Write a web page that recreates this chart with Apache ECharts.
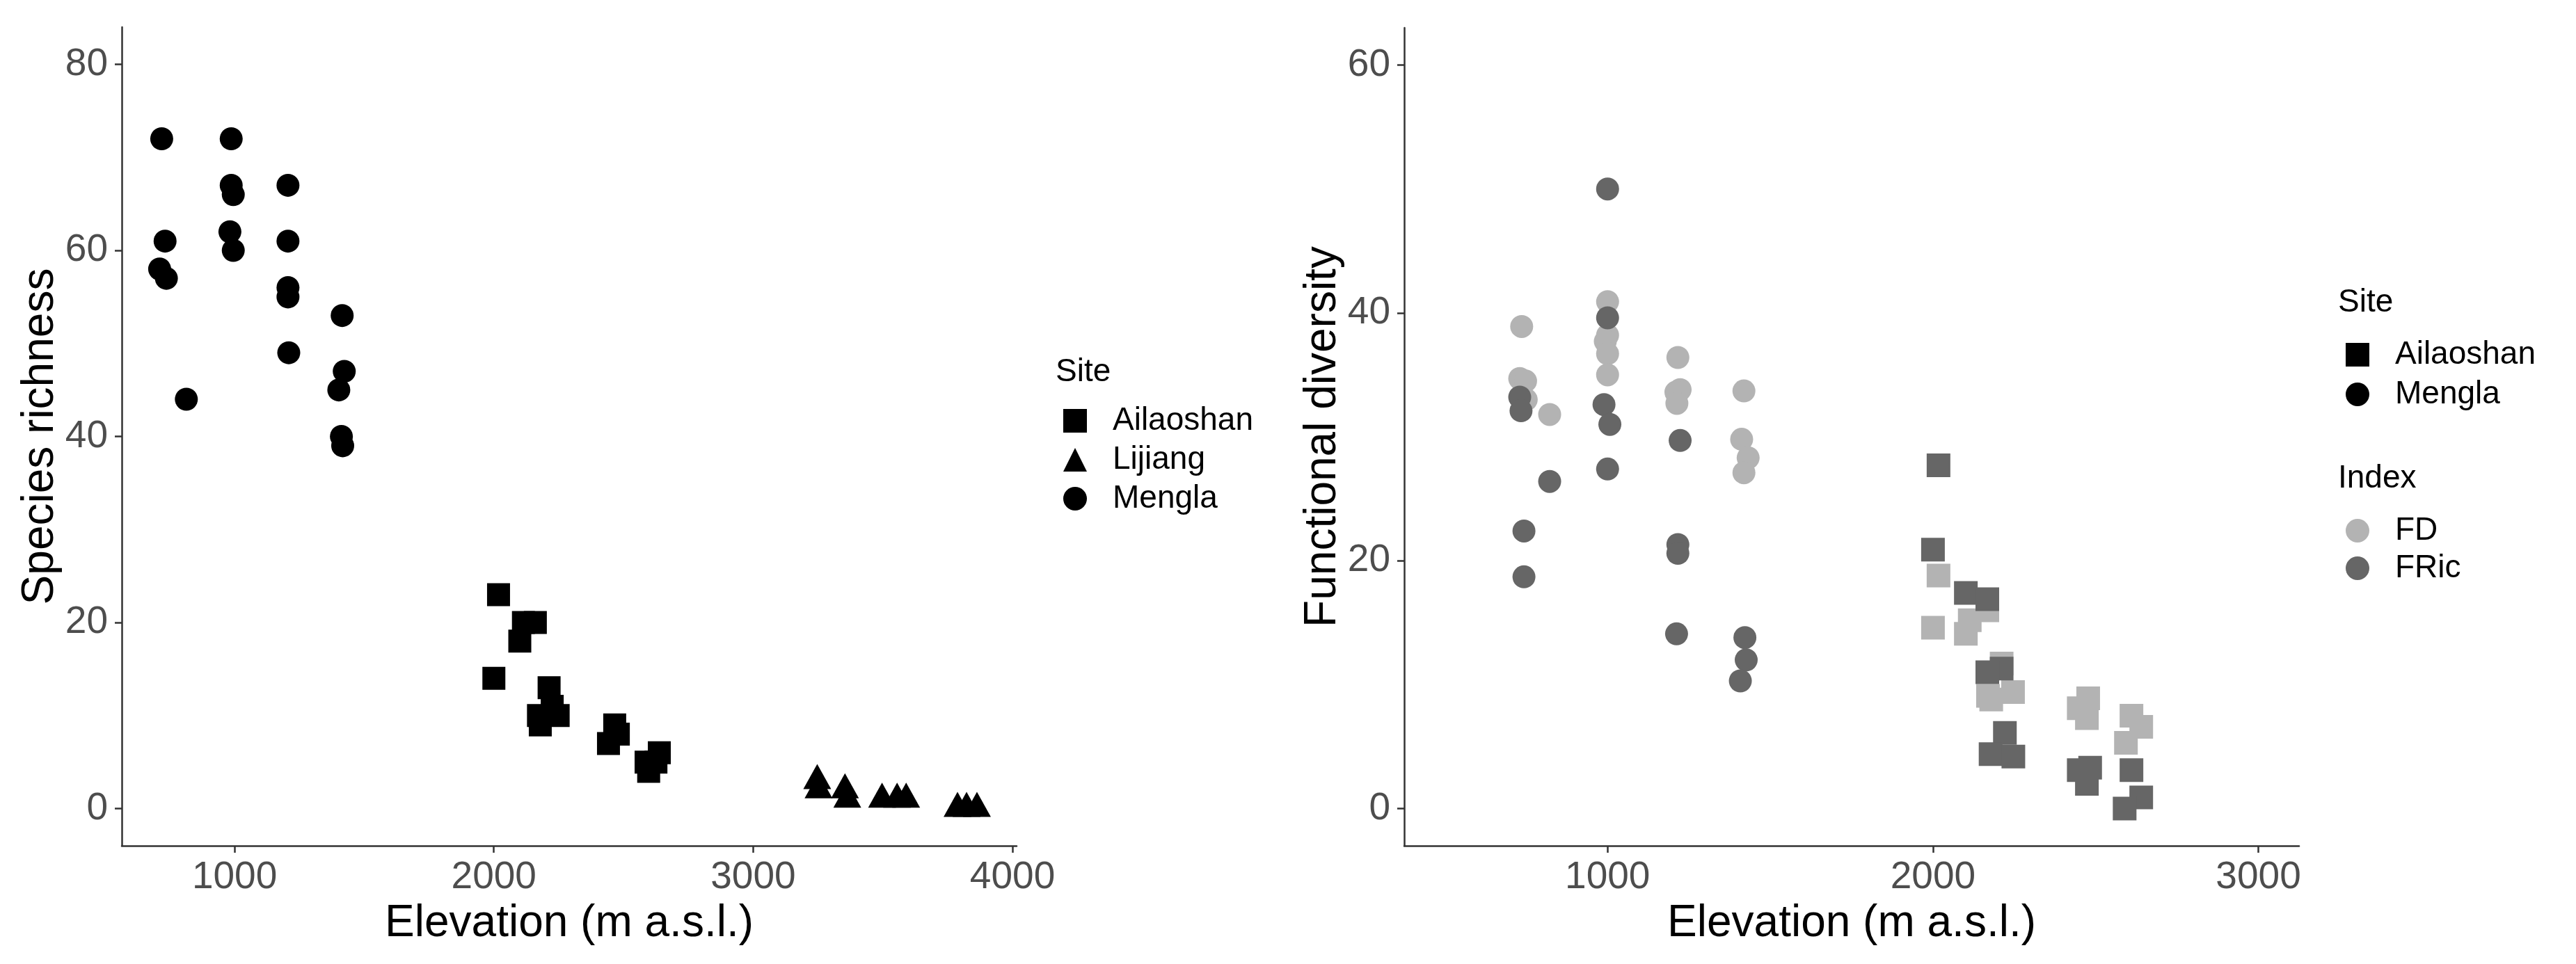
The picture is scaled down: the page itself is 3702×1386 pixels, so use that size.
<!DOCTYPE html>
<html>
<head>
<meta charset="utf-8">
<title>Elevation vs richness / functional diversity</title>
<script src="https://cdn.jsdelivr.net/npm/echarts@6/dist/echarts.min.js"></script>
<style>
  html, body { margin: 0; padding: 0; background: #fff; }
  #chart { width: 3702px; height: 1386px; }
</style>
</head>
<body>
<div id="chart"></div>
<script>
  // ---- left panel : species richness ----
  var leftTicksX = [1000, 2000, 3000, 4000];
  var leftTicksY = [0, 20, 40, 60, 80];

  var ailaoshanElev     = [2018, 2114, 2160, 2100, 2000, 2213, 2225, 2172, 2248, 2179, 2466, 2480, 2442, 2638, 2587, 2625, 2597];
  var ailaoshanRichness = [23, 20, 20, 18, 14, 13, 11, 10, 10, 9, 9, 8, 7, 6, 5, 5, 4];

  var lijiangElev     = [3247, 3252, 3354, 3363, 3497, 3555, 3590, 3788, 3823, 3863];
  var lijiangRichness = [3, 2, 2, 1, 1, 1, 1, 0, 0, 0];

  var menglaElev     = [719, 732, 711, 737, 814, 987, 987, 995, 982, 995, 1206, 1206, 1206, 1206, 1209, 1415, 1423, 1402, 1412, 1417];
  var menglaRichness = [72, 61, 58, 57, 44, 72, 67, 66, 62, 60, 67, 61, 56, 55, 49, 53, 47, 45, 40, 39];

  // ---- right panel : functional diversity ----
  var rightTicksX = [1000, 2000, 3000];
  var rightTicksY = [0, 20, 40, 60];

  var ailaoFdElev = [2017, 2000, 2167, 2113, 2101, 2211, 2246, 2169, 2179, 2477, 2448, 2473, 2610, 2640, 2593];
  var ailaoFd     = [18.8, 14.6, 16.0, 15.2, 14.1, 11.7, 9.4, 9.1, 8.8, 8.9, 8.1, 7.3, 7.5, 6.6, 5.3];
  var ailaoFricElev = [2017, 2000, 2101, 2167, 2211, 2167, 2221, 2177, 2247, 2483, 2448, 2473, 2610, 2640, 2589];
  var ailaoFric     = [27.7, 20.9, 17.4, 16.9, 11.3, 11.0, 6.1, 4.4, 4.2, 3.3, 3.1, 2.0, 3.1, 0.9, 0.0];

  var menglaFdElev = [736, 730, 748, 750, 822, 1000, 1000, 993, 1000, 1000, 1216, 1223, 1210, 1213, 1419, 1412, 1432, 1419];
  var menglaFd     = [38.9, 34.7, 34.5, 33.0, 31.8, 40.9, 38.2, 37.7, 36.7, 35.0, 36.4, 33.8, 33.6, 32.7, 33.7, 29.8, 28.3, 27.1];
  var menglaFricElev = [730, 734, 743, 743, 822, 1000, 1000, 989, 1007, 1000, 1223, 1216, 1216, 1212, 1422, 1426, 1408];
  var menglaFric     = [33.2, 32.1, 22.4, 18.7, 26.4, 50.0, 39.6, 32.6, 31.0, 27.4, 29.7, 21.3, 20.6, 14.1, 13.8, 12.0, 10.3];

  var FONT = '"Liberation Sans", Arial, sans-serif';
  var FD_COLOR = '#b3b3b3';
  var FRIC_COLOR = '#666666';

  function pairs(xs, ys) {
    var out = [];
    for (var i = 0; i < xs.length; i++) out.push([xs[i], ys[i]]);
    return out;
  }
  function plain(v) { return String(v); }

  function xAxisOf(idx, min, max, ticks) {
    return {
      type: 'value', gridIndex: idx, min: min, max: max,
      name: 'Elevation (m a.s.l.)', nameLocation: 'middle', nameGap: 80,
      nameTextStyle: { fontSize: 64, color: '#000', fontFamily: FONT },
      axisLine: { show: true, onZero: false, lineStyle: { color: '#333', width: 2.5 } },
      axisTick: { show: true, length: 10, lineStyle: { color: '#333', width: 2.5 }, customValues: ticks },
      axisLabel: { fontSize: 55, color: '#4d4d4d', fontFamily: FONT, margin: 18, customValues: ticks, formatter: plain },
      splitLine: { show: false }
    };
  }
  function yAxisOf(idx, min, max, ticks, title) {
    return {
      type: 'value', gridIndex: idx, min: min, max: max,
      name: title, nameLocation: 'middle', nameGap: 82, nameRotate: 90,
      nameTextStyle: { fontSize: 64, color: '#000', fontFamily: FONT },
      axisLine: { show: true, onZero: false, lineStyle: { color: '#333', width: 2.5 } },
      axisTick: { show: true, length: 10, lineStyle: { color: '#333', width: 2.5 }, customValues: ticks },
      axisLabel: { fontSize: 55, color: '#4d4d4d', fontFamily: FONT, margin: 20, customValues: ticks, formatter: plain },
      splitLine: { show: false }
    };
  }

  var legendText = { fontSize: 46, color: '#000', fontFamily: FONT, lineHeight: 46, padding: [0, 0, 0, 32] };
  var titleText = { fontSize: 46, color: '#000', fontFamily: FONT, fontWeight: 'normal' };

  var chart = echarts.init(document.getElementById('chart'), null, { renderer: 'canvas' });

  var option = {
    animation: false,
    backgroundColor: '#fff',
    title: [
      { text: 'Site', left: 1517, top: 512, padding: 0, textStyle: titleText },
      { text: 'Site', left: 3360, top: 412, padding: 0, textStyle: titleText },
      { text: 'Index', left: 3360, top: 665, padding: 0, textStyle: titleText }
    ],
    grid: [
      { left: 175, top: 39, width: 1286, height: 1177 },
      { left: 2018, top: 40, width: 1286, height: 1176 }
    ],
    xAxis: [
      xAxisOf(0, 565, 4016, leftTicksX),
      xAxisOf(1, 375, 3125, rightTicksX)
    ],
    yAxis: [
      yAxisOf(0, -4, 84, leftTicksY, 'Species richness'),
      yAxisOf(1, -3, 63, rightTicksY, 'Functional diversity')
    ],
    legend: [
      {
        orient: 'vertical', left: 1528, top: 582, padding: 0, itemGap: 10,
        itemWidth: 34, itemHeight: 34, selectedMode: false, textStyle: legendText,
        data: [{ name: 'Ailaoshan', icon: 'rect' }, { name: 'Lijiang', icon: 'triangle' }, { name: 'Mengla', icon: 'circle' }]
      },
      {
        orient: 'vertical', left: 3371, top: 487, padding: 0, itemGap: 11,
        itemWidth: 34, itemHeight: 34, selectedMode: false, textStyle: legendText,
        data: [{ name: 'Ailaoshan', icon: 'rect' }, { name: 'Mengla', icon: 'circle' }]
      },
      {
        orient: 'vertical', left: 3371, top: 740, padding: 0, itemGap: 8,
        itemWidth: 34, itemHeight: 34, selectedMode: false, textStyle: legendText,
        data: [{ name: 'FD', icon: 'circle' }, { name: 'FRic', icon: 'circle' }]
      }
    ],
    series: [
      { name: 'Ailaoshan', type: 'scatter', xAxisIndex: 0, yAxisIndex: 0, symbol: 'rect', symbolSize: 33,
        itemStyle: { color: '#000', opacity: 1 }, data: pairs(ailaoshanElev, ailaoshanRichness) },
      { name: 'Lijiang', type: 'scatter', xAxisIndex: 0, yAxisIndex: 0, symbol: 'triangle', symbolSize: [40, 36],
        symbolOffset: [0, -6], itemStyle: { color: '#000', opacity: 1 }, data: pairs(lijiangElev, lijiangRichness) },
      { name: 'Mengla', type: 'scatter', xAxisIndex: 0, yAxisIndex: 0, symbol: 'circle', symbolSize: 33,
        itemStyle: { color: '#000', opacity: 1 }, data: pairs(menglaElev, menglaRichness) },

      { name: 'FD', type: 'scatter', xAxisIndex: 1, yAxisIndex: 1, symbol: 'rect', symbolSize: 34,
        itemStyle: { color: FD_COLOR, opacity: 1 }, data: pairs(ailaoFdElev, ailaoFd) },
      { name: 'FD', type: 'scatter', xAxisIndex: 1, yAxisIndex: 1, symbol: 'circle', symbolSize: 33,
        itemStyle: { color: FD_COLOR, opacity: 1 }, data: pairs(menglaFdElev, menglaFd) },
      { name: 'FRic', type: 'scatter', xAxisIndex: 1, yAxisIndex: 1, symbol: 'rect', symbolSize: 34,
        itemStyle: { color: FRIC_COLOR, opacity: 1 }, data: pairs(ailaoFricElev, ailaoFric) },
      { name: 'FRic', type: 'scatter', xAxisIndex: 1, yAxisIndex: 1, symbol: 'circle', symbolSize: 33,
        itemStyle: { color: FRIC_COLOR, opacity: 1 }, data: pairs(menglaFricElev, menglaFric) }
    ]
  };

  chart.setOption(option);
</script>
</body>
</html>
